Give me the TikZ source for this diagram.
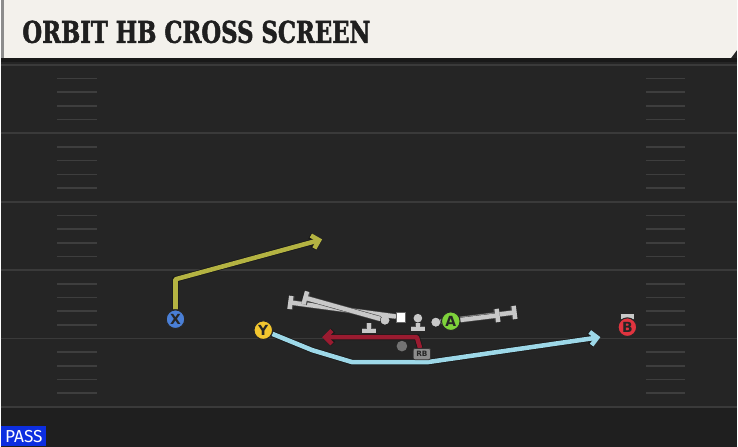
\documentclass[tikz,border=0pt]{standalone}
\usepackage{fontspec}
\setmainfont{DejaVu Sans}
\newfontfamily\titlefont[FakeStretch=0.76,FakeBold=1.6]{DejaVu Serif}
\newfontfamily\tagfont{Fira Sans}
\usetikzlibrary{arrows.meta}

\definecolor{headerbg}{HTML}{F3F1EC}
\definecolor{fieldbg}{HTML}{252525}
\definecolor{fieldlow}{HTML}{1F1F1F}
\definecolor{yardgray}{HTML}{3A3A3A}
\definecolor{hashgray}{HTML}{3E3E3E}
\definecolor{routeolive}{HTML}{B4B342}
\definecolor{routesky}{HTML}{9DD8E8}
\definecolor{routemaroon}{HTML}{9A1B30}
\definecolor{blockgray}{HTML}{C8C8C8}
\definecolor{xblue}{HTML}{4A7FD6}
\definecolor{yyellow}{HTML}{F2C62F}
\definecolor{agreen}{HTML}{7ED23B}
\definecolor{bred}{HTML}{E0343F}
\definecolor{passblue}{HTML}{0C2EE0}

\tikzset{every picture/.style={line width=0.75pt}}

\begin{document}
\begin{tikzpicture}[x=0.75pt,y=0.75pt,yscale=-1,
	player/.style={circle,draw=black!85,line width=0.8pt,fill=#1,inner sep=0pt,minimum size=14pt,font=\bfseries\fontsize{10.5}{10.5}\selectfont,text=black!85},
	lineman/.style={circle,fill=blockgray,inner sep=0pt,minimum size=6.5pt},
	rbtag/.style={rounded corners=1.5pt,fill=black!45,draw=black!80,line width=0.5pt,inner sep=0pt,minimum width=13pt,minimum height=8.5pt,font=\bfseries\fontsize{5.5}{5.5}\selectfont,text=black!85},
	route/.style={draw=#1,line width=3.4pt,line join=round,-{Straight Barb[length=5pt,width=10pt]},preaction={draw=black!90,line width=4.6pt}},
	block/.style={draw=blockgray,line width=3.3pt,-{Bar[width=10pt]},preaction={draw=black!70,line width=4.2pt}}]
	% field and header
	\fill[fieldbg] (0,0) rectangle (738,448);
	\fill[fieldlow] (0,408) rectangle (738,448);
	\foreach \k in {0,...,5}
		\draw[yardgray,line width=1.4pt] (0,65+68.6*\k) -- (738,65+68.6*\k);
	\foreach \k in {0,...,4}
		\foreach \h in {1,...,4} {
			\draw[hashgray,line width=1.2pt] (56,65+68.6*\k+13.72*\h) -- (96,65+68.6*\k+13.72*\h);
			\draw[hashgray,line width=1.2pt] (647,65+68.6*\k+13.72*\h) -- (686,65+68.6*\k+13.72*\h);
		}
	\fill[headerbg] (0,0) -- (738,0) -- (738,50) -- (732,58) -- (0,58) -- cycle;
	\fill[black!45] (0,0) rectangle (3,58);
	\fill[black!90] (0,58) rectangle (738,62);
	\node[anchor=west,inner sep=0pt,font=\titlefont\bfseries\fontsize{22.5}{22.5}\selectfont,text=black!88] (title) at (21,32) {ORBIT HB CROSS SCREEN};

	% linemen and blocks
	\node[inner sep=0pt,minimum size=2pt] (lt) at (369,322) {};
	\node[lineman] (lg) at (385,321) {};
	\node[fill=white,draw=black!60,line width=0.5pt,inner sep=0pt,minimum size=7pt] (c) at (401,318) {};
	\node[lineman] (rg) at (418,319) {};
	\node[lineman] (rt) at (436,323) {};
	\node[circle,fill=black!55,inner sep=0pt,minimum size=8pt] (qb) at (402,347) {};
	\coordinate (cblk) at (288,303);
	\coordinate (lgblk) at (303,298);
	\coordinate (ltblk) at (369,334);
	\coordinate (rgblk) at (418,332);
	\coordinate (rtblk) at (517,313);
	\coordinate (ablk) at (500,316);
	\coordinate (bblk) at (628,315);
	\draw[block] (c) -- (cblk);
	\draw[block] (lg) -- (lgblk);
	\draw[block] (lt) -- (ltblk);
	\draw[block] (rg) -- (rgblk);
	\draw[block] (rt) -- (rtblk);
	\node[lineman] at (rt) {};
	\node[lineman] at (lg) {};
	\node[fill=white,draw=black!60,line width=0.5pt,inner sep=0pt,minimum size=7pt] at (c) {};

	% skill players
	\node[player=xblue] (x) at (175,320) {X};
	\node[player=yyellow] (y) at (263,331) {Y};
	\node[player=agreen] (a) at (451,322) {A};
	\draw[block] (bblk) ++(0,9) -- (bblk);
	\node[player=bred] (b) at (628,328) {B};
	\draw[block] (a) -- (ablk);
	\node[rbtag] (rb) at (422,355) {RB};

	% routes
	\coordinate (xcut) at (175,280);
	\coordinate (xend) at (322,240);
	\coordinate (rbcut) at (417,338);
	\coordinate (rbend) at (322,338);
	\coordinate (ybend) at (312,351);
	\coordinate (ylow) at (352,363);
	\coordinate (ylow2) at (428,363);
	\coordinate (yend) at (601,338);
	\draw[route=routeolive] (x) -- (xcut) -- (xend);
	\draw[route=routemaroon] (rb) -- (rbcut) -- (rbend);
	\draw[route=routesky] (y) -- (ybend) -- (ylow) -- (ylow2) -- (yend);
	\node[player=xblue] at (x) {X};
	\node[player=yyellow] at (y) {Y};
	\node[rbtag] at (rb) {RB};

	% play type
	\node[anchor=south west,fill=passblue,text=white,inner sep=0pt,minimum width=33.75pt,minimum height=15pt,font=\tagfont\fontsize{13}{13}\selectfont] (pass) at (0,448) {PASS};
\end{tikzpicture}
\end{document}
